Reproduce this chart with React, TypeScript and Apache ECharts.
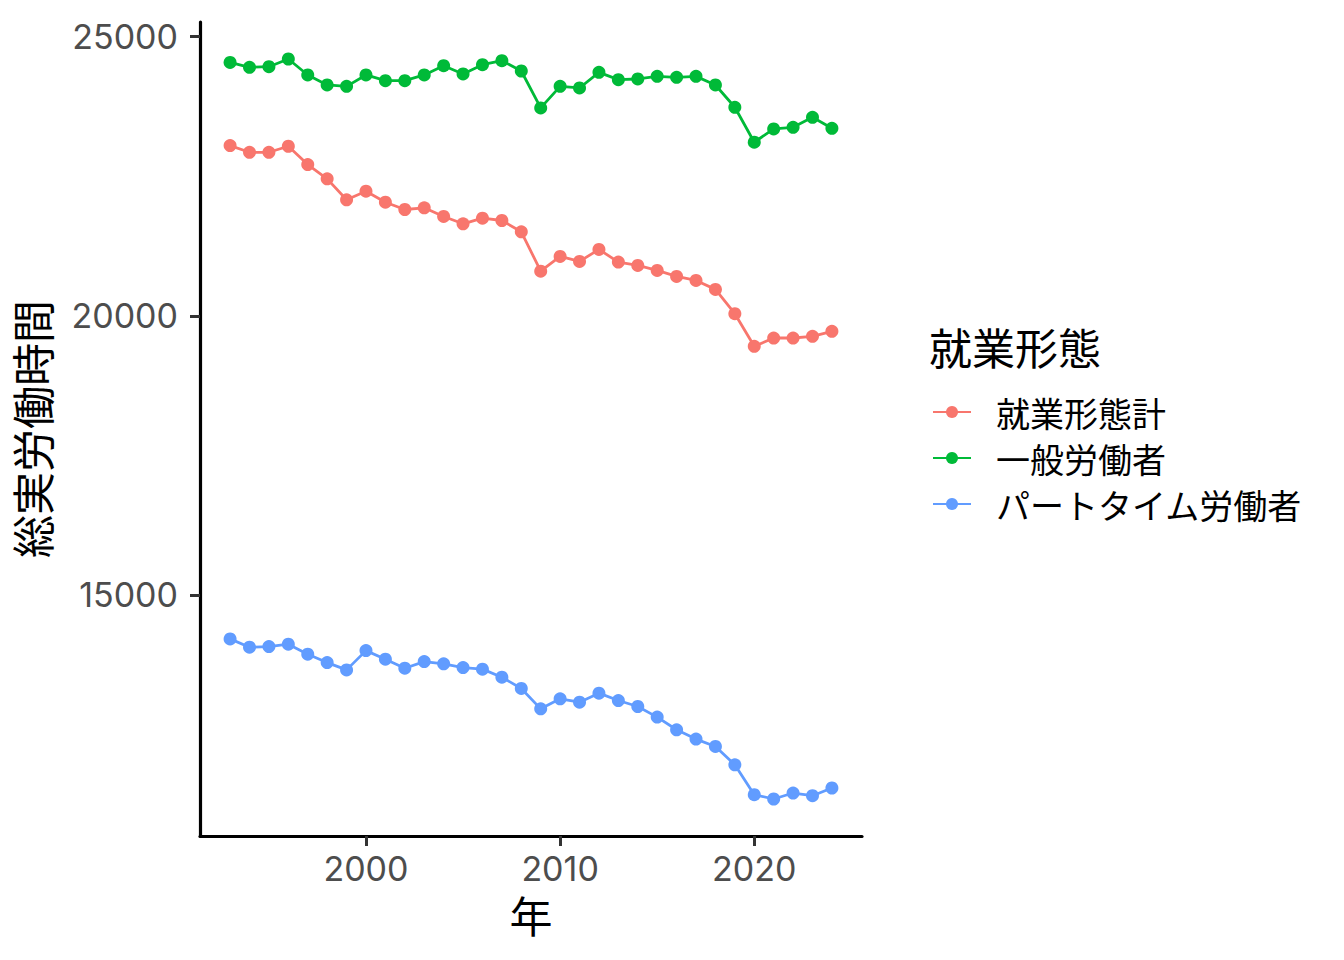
import React, { useEffect, useRef } from "react";
import * as echarts from "echarts";

const years: number[] = [
  1993, 1994, 1995, 1996, 1997, 1998, 1999, 2000, 2001, 2002, 2003, 2004, 2005, 2006, 2007, 2008,
  2009, 2010, 2011, 2012, 2013, 2014, 2015, 2016, 2017, 2018, 2019, 2020, 2021, 2022, 2023, 2024,
];

const seriesNames: string[] = ["就業形態計", "一般労働者", "パートタイム労働者"];
const seriesColors: string[] = ["#F8766D", "#00BA38", "#619CFF"];

const totalHours: number[] = [
  23050, 22930, 22930, 23038, 22710, 22454, 22079, 22233, 22036, 21905, 21936, 21780, 21649, 21750, 21708, 21505,
  20801, 21064, 20975, 21190, 20963, 20903, 20814, 20707, 20635, 20474, 20039, 19454, 19603, 19603, 19633, 19723,
];
const generalHours: number[] = [
  24540, 24451, 24463, 24601, 24315, 24136, 24111, 24315, 24213, 24213, 24315, 24481, 24333, 24499, 24571, 24386,
  23725, 24111, 24082, 24362, 24231, 24243, 24290, 24272, 24290, 24136, 23736, 23110, 23349, 23378, 23556, 23360,
];
const partTimeHours: number[] = [
  14213, 14064, 14075, 14118, 13939, 13789, 13658, 14003, 13849, 13688, 13807, 13766, 13699, 13671, 13527, 13325,
  12960, 13139, 13080, 13241, 13109, 13002, 12812, 12585, 12418, 12286, 11958, 11422, 11345, 11452, 11404, 11542,
];

const xTicks: number[] = [2000, 2010, 2020];
const yTicks: number[] = [15000, 20000, 25000];

const xTitle = "年";
const yTitle = "総実労働時間";
const legendTitle = "就業形態";

const FONT = '"Noto Sans CJK JP", "Noto Sans", sans-serif';
const NUM_FONT = 'Inter, "Noto Sans", sans-serif';

export default function App() {
  const ref = useRef<HTMLDivElement>(null);

  useEffect(() => {
    if (!ref.current) return;
    const chart = echarts.init(ref.current, undefined, { renderer: "svg" });
    const allValues = [...totalHours, ...generalHours, ...partTimeHours];
    const yMinData = Math.min(...allValues);
    const yMaxData = Math.max(...allValues);
    const yPad = (yMaxData - yMinData) * 0.05;
    const xPad = (years[years.length - 1] - years[0]) * 0.05;
    const valuesList = [totalHours, generalHours, partTimeHours];

    chart.setOption({
      animation: false,
      backgroundColor: "#FFFFFF",
      textStyle: { fontFamily: FONT },
      grid: { left: 200, right: 482, top: 22, bottom: 124 },
      xAxis: {
        type: "value",
        min: years[0] - xPad,
        max: years[years.length - 1] + xPad,
        name: xTitle,
        nameLocation: "middle",
        nameGap: 56,
        nameTextStyle: { fontSize: 43, lineHeight: 43, color: "#000000", fontFamily: FONT },
        axisLine: { show: true, onZero: false, lineStyle: { color: "#000000", width: 3.2 } },
        axisTick: { show: true, customValues: xTicks, length: 10, lineStyle: { color: "#333333", width: 3 } },
        axisLabel: {
          customValues: xTicks,
          fontSize: 34,
          lineHeight: 34,
          color: "#4D4D4D",
          margin: 15,
          fontFamily: NUM_FONT,
          formatter: (v: number) => String(v),
        },
        splitLine: { show: false },
      },
      yAxis: {
        type: "value",
        min: yMinData - yPad,
        max: yMaxData + yPad,
        name: yTitle,
        nameLocation: "middle",
        nameGap: 148,
        nameRotate: 90,
        nameTextStyle: { fontSize: 43, color: "#000000", fontFamily: FONT },
        axisLine: { show: true, onZero: false, lineStyle: { color: "#000000", width: 3.2 } },
        axisTick: { show: true, customValues: yTicks, length: 10, lineStyle: { color: "#333333", width: 3 } },
        axisLabel: {
          customValues: yTicks,
          fontSize: 34,
          color: "#4D4D4D",
          margin: 22,
          fontFamily: NUM_FONT,
          formatter: (v: number) => String(v),
        },
        splitLine: { show: false },
      },
      legend: {
        orient: "vertical",
        left: 927,
        top: 387,
        itemWidth: 38,
        itemHeight: 15,
        itemGap: 6,
        data: seriesNames,
        textStyle: { fontSize: 34, color: "#000000", fontFamily: FONT, lineHeight: 40, padding: [0, 0, 0, 20] },
      },
      graphic: [
        {
          type: "text",
          left: 929,
          top: 324,
          style: { text: legendTitle, fontSize: 43, fill: "#000000", fontFamily: FONT },
        },
      ],
      series: seriesNames.map((name, i) => ({
        name,
        type: "line",
        data: years.map((y, j) => [y, valuesList[i][j]]),
        symbol: "circle",
        symbolSize: 13,
        color: seriesColors[i],
        lineStyle: { color: seriesColors[i], width: 2.8 },
        itemStyle: { color: seriesColors[i], borderWidth: 0 },
        emphasis: { disabled: true },
      })),
    });

    return () => chart.dispose();
  }, []);

  return (
    <div
      ref={ref}
      style={{ position: "fixed", left: 0, top: 0, width: 1344, height: 960, background: "#FFFFFF" }}
    />
  );
}
